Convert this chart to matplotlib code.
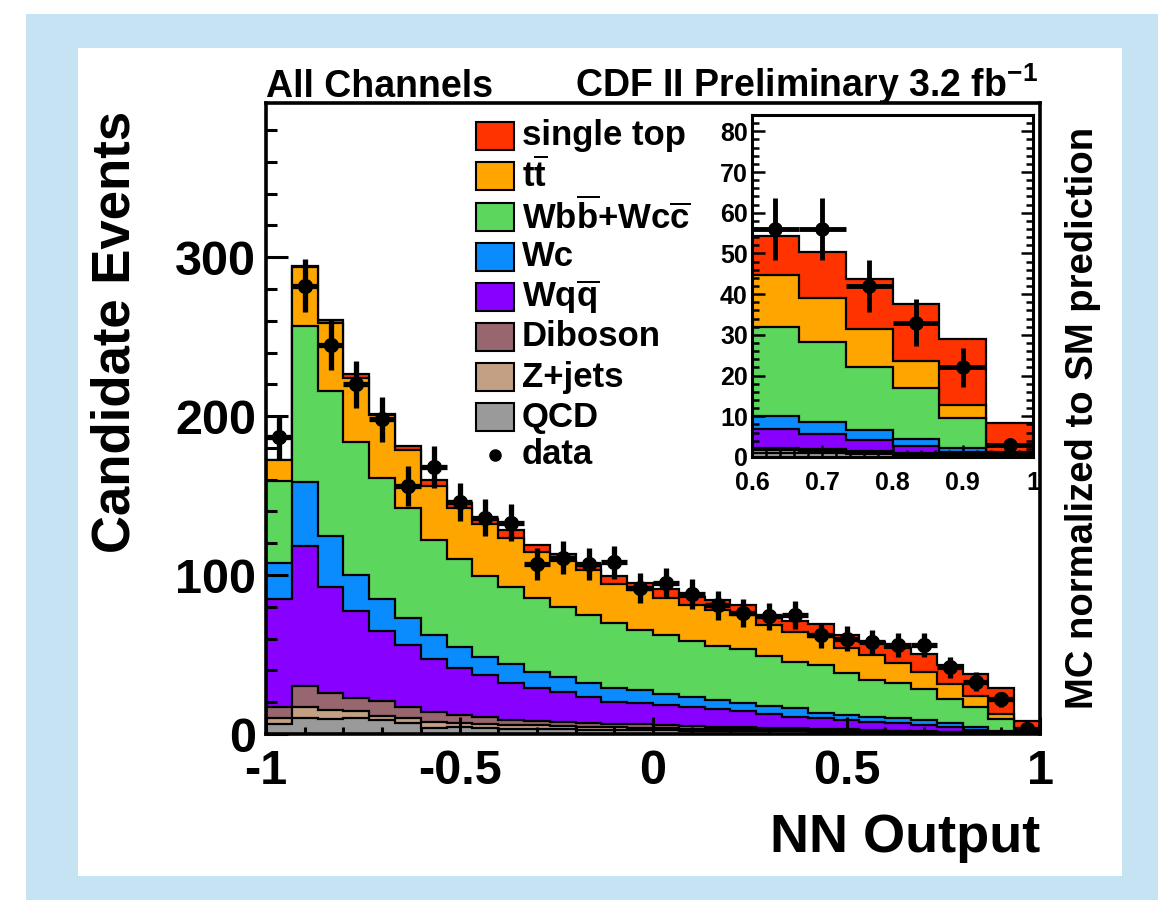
import numpy as np
import matplotlib
matplotlib.use('Agg')
import matplotlib.pyplot as plt
from matplotlib.patches import Rectangle
from matplotlib.lines import Line2D
from matplotlib.ticker import MultipleLocator, FuncFormatter

plt.rcParams['font.family'] = ['Liberation Sans', 'DejaVu Sans']
plt.rcParams['font.weight'] = 'bold'
plt.rcParams['mathtext.fontset'] = 'custom'
plt.rcParams['mathtext.rm'] = 'Liberation Sans:bold'
plt.rcParams['mathtext.it'] = 'Liberation Sans:bold'
plt.rcParams['mathtext.bf'] = 'Liberation Sans:bold'

# ---------------- data ----------------
nn_edges = np.linspace(-1.0, 1.0, 31)

qcd = [6.3, 9.9, 9.3, 9.9, 8.8, 6.7, 3.6, 4.2, 3.6, 3.4, 3.2, 3.0, 2.8, 2.6, 2.5,
       2.3, 2.1, 2.0, 1.9, 1.7, 1.6, 1.5, 1.3, 1.2, 1.0, 0.9, 0.7, 0.5, 0.3, 0.1]
zjets = [3.6, 6.9, 5.8, 4.8, 2.5, 3.2, 4.2, 2.5, 2.9, 2.3, 2.2, 2.0, 1.8, 1.7, 1.5,
         1.4, 1.3, 1.2, 1.1, 1.1, 1.0, 0.9, 0.9, 0.8, 0.6, 0.5, 0.4, 0.3, 0.2, 0.1]
diboson = [7.3, 13.4, 10.9, 8.2, 9.7, 7.3, 5.9, 5.3, 4.4, 3.1, 3.0, 2.8, 2.5, 2.0, 2.0,
           1.8, 1.6, 1.4, 1.3, 1.2, 1.1, 1.0, 0.8, 0.7, 0.6, 0.5, 0.3, 0.2, 0.2, 0.1]
wqq = [67.6, 88.3, 66.8, 54.2, 44.1, 38.9, 33.4, 29.4, 26.3, 23.5, 20.4, 18.9, 16.4, 14.1, 13.5,
       12.5, 11.8, 10.9, 10.3, 8.5, 7.2, 6.4, 5.8, 5.0, 4.8, 3.8, 2.8, 1.8, 0.6, 0.1]
wc = [22.7, 39.9, 31.5, 23.1, 19.8, 16.8, 15.3, 13.6, 11.5, 11.8, 10.5, 9.4, 8.8, 8.4, 8.0,
      7.0, 6.3, 5.9, 5.1, 5.3, 5.2, 3.2, 3.1, 2.8, 3.0, 2.8, 2.5, 1.6, 0.8, 0.1]
wbb_wcc = [51.5, 98.2, 91.8, 83.6, 76.1, 69.3, 59.8, 55.1, 50.9, 48.7, 46.2, 44.1, 42.7, 41.0, 38.0,
           37.4, 35.7, 34.2, 33.6, 31.5, 29.4, 30.4, 26.3, 23.5, 22.0, 19.7, 15.5, 12.5, 7.4, 0.3]
ttbar = [13.2, 37.4, 42.2, 40.3, 39.6, 36.3, 34.1, 32.1, 32.7, 30.5, 29.0, 28.4, 27.9, 24.7, 25.0,
         23.1, 22.1, 22.7, 21.7, 19.3, 18.9, 17.9, 15.8, 15.7, 12.6, 10.9, 9.2, 6.8, 3.2, 0.4]
single_top = [0.4, 0.5, 1.9, 2.7, 1.0, 2.5, 3.7, 3.2, 3.0, 4.8, 4.2, 4.8, 3.6, 5.2, 4.3,
              5.5, 5.2, 6.1, 6.3, 5.9, 7.0, 8.0, 8.4, 8.4, 9.7, 11.2, 12.2, 14.0, 16.2, 7.2]

data_counts = [187, 282, 245, 220, 198, 156, 168, 146, 136, 133, 107, 111, 107, 108, 92,
               95, 88, 81, 76, 74, 75, 62, 60, 58, 56, 56, 42, 33, 22, 3]
data_err = [13.7, 16.8, 15.7, 14.8, 14.1, 12.5, 13.0, 12.1, 11.7, 11.5, 10.3, 10.5, 10.3, 10.4, 9.6,
            9.7, 9.4, 9.0, 8.7, 8.6, 8.7, 7.9, 7.7, 7.6, 7.5, 7.5, 6.5, 5.7, 4.7, 1.7]

labels = ['QCD', 'Z+jets', 'Diboson', r'$Wq\overline{q}$', 'Wc',
          r'$Wb\overline{b}{+}Wc\overline{c}$', r'$t\overline{t}$', 'single top']
colors = ['#9A9A9A', '#C3A083', '#98666E', '#8800FF', '#0A8CFF',
          '#5CD65C', '#FFA500', '#FF3300']

# ---------------- figure ----------------
W, H = 1158, 900
fig = plt.figure(figsize=(W / 100, H / 100), dpi=100)
fig.patch.set_facecolor('white')

def px(x, y):
    return x / W, 1 - y / H

# frame backgrounds
fig.add_artist(Rectangle(px(26, 900), (W - 26) / W, (900 - 14) / H,
                         transform=fig.transFigure, facecolor='#C5E3F3',
                         edgecolor='none', zorder=-10))
fig.add_artist(Rectangle(px(78, 876), (1122 - 78) / W, (876 - 48) / H,
                         transform=fig.transFigure, facecolor='white',
                         edgecolor='none', zorder=-9))

comps = np.array([qcd, zjets, diboson, wqq, wc, wbb_wcc, ttbar, single_top])
cum = np.cumsum(comps, axis=0)
centers = 0.5 * (nn_edges[:-1] + nn_edges[1:])
halfw = 0.5 * np.diff(nn_edges)
data_counts = np.array(data_counts)
data_err = np.array(data_err)

# main axes
x0, y0 = px(266, 734)
ax = fig.add_axes([x0, y0, (1040 - 266) / W, (734 - 103) / H])
ax.patch.set_alpha(0)
for k in reversed(range(len(comps))):
    ax.stairs(cum[k], nn_edges, baseline=0, fill=True, facecolor=colors[k],
              edgecolor='black', linewidth=1.6, zorder=1)
ax.errorbar(centers, data_counts, xerr=halfw, yerr=data_err, fmt='o',
            color='black', ms=10, elinewidth=3.8, capsize=0, zorder=5)
ax.set_xlim(-1, 1)
ax.set_ylim(0, 397)
for s in ax.spines.values():
    s.set_linewidth(2.6)
fmt = FuncFormatter(lambda v, p: '%g' % v)
ax.xaxis.set_major_locator(MultipleLocator(0.5))
ax.xaxis.set_minor_locator(MultipleLocator(0.1))
ax.yaxis.set_major_locator(MultipleLocator(100))
ax.yaxis.set_minor_locator(MultipleLocator(20))
ax.xaxis.set_major_formatter(fmt)
ax.yaxis.set_major_formatter(fmt)
ax.tick_params(which='both', direction='in', top=False, right=False, width=2.2)
ax.tick_params(axis='y', which='major', length=16, labelsize=35, pad=7)
ax.tick_params(axis='y', which='minor', length=8)
ax.tick_params(axis='x', which='major', length=12, labelsize=35, pad=11)
ax.tick_params(axis='x', which='minor', length=5)

# inset
ix0, iy0 = px(752, 457)
axin = fig.add_axes([ix0, iy0, (1033 - 752) / W, (457 - 115) / H])
axin.set_facecolor('white')
sel = centers > 0.6
in_edges = nn_edges[np.append(sel, True) & (nn_edges >= 0.6 - 1e-9)]
for k in reversed(range(len(comps))):
    axin.stairs(cum[k][sel], in_edges, baseline=0, fill=True, facecolor=colors[k],
                edgecolor='black', linewidth=1.6, zorder=1)
axin.errorbar(centers[sel], data_counts[sel], xerr=halfw[sel], yerr=data_err[sel],
              fmt='o', color='black', ms=9.5, elinewidth=3.5, capsize=0, zorder=5)
axin.set_xlim(0.6, 1.0)
axin.set_ylim(0, 84)
for s in axin.spines.values():
    s.set_linewidth(2.2)
axin.xaxis.set_major_locator(MultipleLocator(0.1))
axin.xaxis.set_minor_locator(MultipleLocator(0.02))
axin.yaxis.set_major_locator(MultipleLocator(10))
axin.yaxis.set_minor_locator(MultipleLocator(2))
axin.xaxis.set_major_formatter(fmt)
axin.yaxis.set_major_formatter(fmt)
axin.tick_params(which='both', direction='in', top=False, right=True, width=1.8,
                 labelsize=18, pad=3)
axin.tick_params(axis='x', pad=10)
axin.tick_params(which='major', length=9)
axin.tick_params(which='minor', length=5)

# texts
fig.text(*px(266, 97), 'All Channels', ha='left', va='baseline', fontsize=27,
         fontweight='bold')
fig.text(*px(1038, 97), r'CDF II Preliminary 3.2 fb$^{-1}$', ha='right', va='baseline',
         fontsize=27, fontweight='bold')
fig.text(*px(115, 332), 'Candidate Events', rotation=90, ha='center', va='center',
         fontsize=38, fontweight='bold')
fig.text(*px(1040, 838), 'NN Output', ha='right', va='center', fontsize=39,
         fontweight='bold')
fig.text(*px(1083, 418), 'MC normalized to SM prediction', rotation=90, ha='center',
         va='center', fontsize=27.5, fontweight='bold')

# legend (manual, ROOT style)
rows = [136, 176, 217, 257, 297, 337, 377, 417]
for i, k in enumerate(reversed(range(len(comps)))):
    yc = rows[i]
    fig.add_artist(Rectangle(px(476, yc + 14), 38 / W, 28 / H, transform=fig.transFigure,
                             facecolor=colors[k], edgecolor='black', linewidth=1.5,
                             zorder=6))
    fig.text(*px(522, yc), labels[k], ha='left', va='center', fontsize=25,
             fontweight='bold', zorder=6)
fig.add_artist(Line2D([495 / W], [1 - 455 / H], marker='o', color='black', ms=8,
                      transform=fig.transFigure, zorder=6))
fig.text(*px(522, 455), 'data', ha='left', va='center', fontsize=25, fontweight='bold',
         zorder=6)

fig.savefig('out.png', dpi=100)
